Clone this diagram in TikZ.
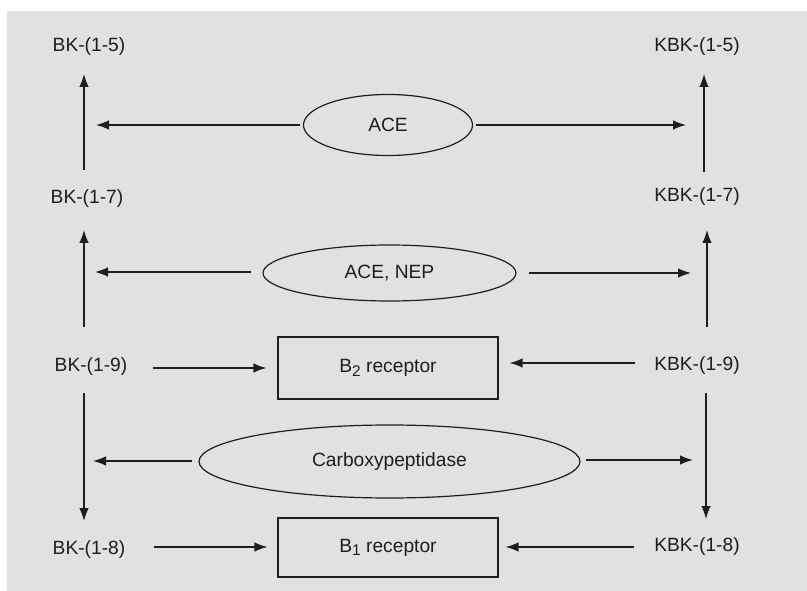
\documentclass[tikz,border=0pt]{standalone}
\usepackage{fontspec}
\setmainfont{Liberation Sans}
\usetikzlibrary{shapes.geometric,arrows.meta}
\definecolor{bg}{HTML}{E1E1E1}
\definecolor{ink}{HTML}{1E1E1E}
\tikzset{
  lbl/.style={inner sep=0pt, text=ink, font=\fontsize{19.2}{22}\selectfont},
  enz/.style={draw=ink, line width=1.2pt, ellipse, inner sep=0pt, text=ink, font=\fontsize{19.2}{22}\selectfont},
  rec/.style={draw=ink, line width=1.2pt, rectangle, inner sep=0pt, text=ink, font=\fontsize{19.2}{22}\selectfont},
  arr/.style={draw=ink, line width=1.3pt, -{Latex[length=13pt,width=9.5pt]}},
}
\newcommand{\subn}[1]{\raisebox{-0.35ex}{\fontsize{15.5}{15.5}\selectfont #1}}
\begin{document}
\begin{tikzpicture}[x=1pt,y=-1pt]
\useasboundingbox (0,0) rectangle (807,591);
\fill[bg] (7,11) rectangle (807,591);
% labels
\node[lbl] (bk5) at (89,47) {BK-(1-5)};
\node[lbl] (bk7) at (87,199) {BK-(1-7)};
\node[lbl] (bk9) at (91,367) {BK-(1-9)};
\node[lbl] (bk8) at (89,550) {BK-(1-8)};
\node[lbl] (kbk5) at (697,47) {KBK-(1-5)};
\node[lbl] (kbk7) at (697,197) {KBK-(1-7)};
\node[lbl] (kbk9) at (697,366) {KBK-(1-9)};
\node[lbl] (kbk8) at (697,547) {KBK-(1-8)};
% enzymes
\node[enz, minimum width=169pt, minimum height=61pt] (ace) at (388,125) {ACE};
\node[enz, minimum width=253pt, minimum height=56pt] (nep) at (389.5,273) {ACE, NEP};
\node[enz, minimum width=381pt, minimum height=73pt] (cpd) at (389.5,461.5) {Carboxypeptidase};
\node[rec, minimum width=220pt, minimum height=62pt] (b2) at (388,368) {B\subn{2} receptor};
\node[rec, minimum width=220pt, minimum height=59pt] (b1) at (388,547.5) {B\subn{1} receptor};
% arrow end coordinates
\coordinate (l5t) at (84,74);   \coordinate (l7b) at (84,170);
\coordinate (l7t) at (84,230);  \coordinate (l9t) at (84,327);
\coordinate (l9b) at (84,393);  \coordinate (l8t) at (84,521);
\coordinate (r5t) at (704,74);  \coordinate (r7b) at (704,172);
\coordinate (r7t) at (707,230); \coordinate (r9t) at (707,327);
\coordinate (r9b) at (706,393); \coordinate (r8t) at (706,519);
\coordinate (aceL) at (96,125); \coordinate (aceR) at (686,125);
\coordinate (nepL) at (95,272); \coordinate (nepR) at (691,273);
\coordinate (cpdL) at (93,461); \coordinate (cpdR) at (693,460);
\coordinate (b2Ls) at (153,368); \coordinate (b2Rs) at (635,363);
\coordinate (b1Ls) at (154,547); \coordinate (b1Rs) at (634,547);
% vertical conversions
\draw[arr] (l7b) -- (l5t);
\draw[arr] (l9t) -- (l7t);
\draw[arr] (l9b) -- (l8t);
\draw[arr] (r7b) -- (r5t);
\draw[arr] (r9t) -- (r7t);
\draw[arr] (r9b) -- (r8t);
% enzyme arrows
\draw[arr] ([xshift=-3pt]ace.west |- aceL) -- (aceL);
\draw[arr] ([xshift=3pt]ace.east |- aceR) -- (aceR);
\draw[arr] ([xshift=-11pt]nep.west |- nepL) -- (nepL);
\draw[arr] ([xshift=12pt]nep.east |- nepR) -- (nepR);
\draw[arr] ([xshift=-6pt]cpd.west |- cpdL) -- (cpdL);
\draw[arr] ([xshift=5pt]cpd.east |- cpdR) -- (cpdR);
% receptor arrows
\draw[arr] (b2Ls) -- ([xshift=-11pt]b2.west |- b2Ls);
\draw[arr] (b2Rs) -- ([xshift=11pt]b2.east |- b2Rs);
\draw[arr] (b1Ls) -- ([xshift=-10pt]b1.west |- b1Ls);
\draw[arr] (b1Rs) -- ([xshift=7pt]b1.east |- b1Rs);
\end{tikzpicture}
\end{document}
